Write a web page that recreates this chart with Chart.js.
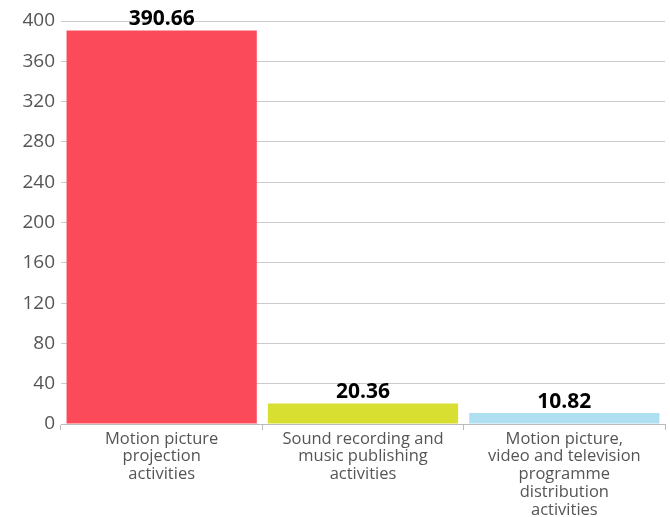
<!DOCTYPE html>
<html>
<head>
<meta charset="utf-8">
<script src="https://cdn.jsdelivr.net/npm/chart.js@4/dist/chart.umd.min.js"></script>
<style>
    html, body { margin: 0; padding: 0; background: #fff; }
    #wrap { width: 670px; height: 517px; }
</style>
</head>
<body>
<div id="wrap"><canvas id="chart" width="670" height="517"></canvas></div>
<script>
// Chart data
const categories = [
    ['Motion picture', 'projection', 'activities'],
    ['Sound recording and', 'music publishing', 'activities'],
    ['Motion picture,', 'video and television', 'programme', 'distribution', 'activities']
];
const values = [390.66, 20.36, 10.82];
const barColors = ['#fb4b5b', '#d9df30', '#aee0f2'];
const yTicks = [0, 40, 80, 120, 160, 200, 240, 280, 320, 360, 400];

const fontFamily = '"Open Sans", "Noto Sans", sans-serif';

// Draw value labels above each bar
const valueLabels = {
    id: 'valueLabels',
    afterDatasetsDraw(chart) {
        const ctx = chart.ctx;
        const meta = chart.getDatasetMeta(0);
        ctx.save();
        ctx.font = 'bold 21px ' + fontFamily;
        ctx.fillStyle = '#000';
        ctx.textAlign = 'center';
        ctx.textBaseline = 'alphabetic';
        meta.data.forEach((bar, i) => {
            ctx.fillText(values[i].toFixed(2), bar.x, bar.y - 5);
        });
        ctx.restore();
    }
};

new Chart(document.getElementById('chart'), {
    type: 'bar',
    data: {
        labels: categories,
        datasets: [{
            data: values,
            backgroundColor: barColors,
            borderWidth: 0,
            categoryPercentage: 1,
            barPercentage: 0.945
        }]
    },
    options: {
        responsive: false,
        animation: false,
        layout: { padding: { top: 21, right: 5, left: 0, bottom: 0 } },
        scales: {
            x: {
                afterFit: axis => { axis.height = 93; },
                grid: {
                    offset: true,
                    drawOnChartArea: false,
                    tickLength: 6,
                    color: '#bbb'
                },
                border: { color: '#bbb' },
                ticks: {
                    color: '#555',
                    font: { family: fontFamily, size: 16.5, lineHeight: 1.08 },
                    padding: 0,
                    maxRotation: 0
                }
            },
            y: {
                min: 0,
                max: 400,
                afterFit: axis => { axis.width = 61; },
                afterBuildTicks: axis => {
                    axis.ticks = yTicks.map(v => ({ value: v }));
                },
                grid: { color: '#ccc', tickLength: 0 },
                border: { display: false },
                ticks: {
                    color: '#555',
                    font: { family: fontFamily, size: 19 },
                    padding: 6
                }
            }
        },
        plugins: {
            legend: { display: false },
            tooltip: { enabled: false }
        }
    },
    plugins: [valueLabels]
});
</script>
</body>
</html>
